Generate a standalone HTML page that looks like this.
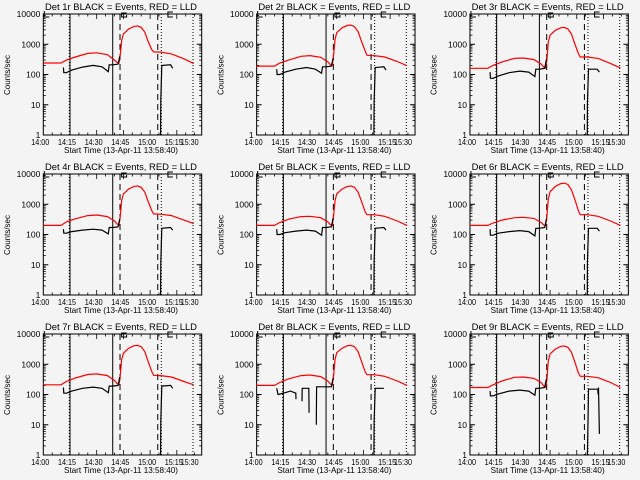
<!DOCTYPE html>
<html><head><meta charset="utf-8"><style>
html,body{margin:0;padding:0;background:#f4f4f4}
svg{display:block}
text{font-family:"Liberation Sans",sans-serif;fill:#000}
</style></head><body>
<svg id="chart" width="640" height="480" viewBox="0 0 640 480"></svg>
<script>
// ---- data ----
const panelNames = ["1r","2r","3r","4r","5r","6r","7r","8r","9r"];
const xTickLabels = ["14:00","14:15","14:30","14:45","15:00","15:15","15:30"];
const xTickMinutes = [0,15,30,45,60,75,90];
const yTickValues = [1,10,100,1000,10000];
const yTickLabels = ["1","10","100","1000","10000"];
const redTimes = [0,10,13,18,25,30,36,40,41.5,42.5,43.2,44,45,48,51,53,55,57,59,61,62,66,72,79,84.5];
const redValues = [
 [240,240,300,380,500,520,450,300,250,240,420,1300,2200,3200,3900,4000,3600,2500,1200,650,560,550,480,330,230],
 [190,190,240,300,400,420,370,260,210,200,400,1400,2400,3500,4200,4300,3800,2600,1200,600,430,420,380,270,195],
 [160,160,200,260,340,350,310,220,175,165,300,1200,2000,2900,3500,3600,3200,2200,1000,480,380,380,340,230,165],
 [200,200,260,330,420,440,390,280,220,210,380,1300,2200,3200,3900,4000,3600,2500,1200,600,480,470,420,300,230],
 [200,200,250,320,390,400,360,260,210,200,380,1300,2200,3200,3900,4000,3600,2500,1200,560,450,450,400,280,200],
 [200,200,240,300,360,370,340,250,205,200,400,1500,2600,3900,4800,5000,4500,3000,1400,600,450,450,400,280,200],
 [210,210,270,350,460,480,420,290,230,215,400,1400,2300,3400,4100,4200,3800,2600,1200,560,430,420,380,270,210],
 [200,200,250,330,420,440,390,280,220,210,380,1400,2400,3400,4100,4200,3800,2600,1200,560,450,450,400,280,200],
 [170,170,210,280,370,380,340,250,190,175,300,1300,2200,3200,3900,4000,3600,2500,1150,500,400,400,360,250,170]
];
const stdBlackTimes = [11.3,11.5,13,16,22,28,33,36.5,37,39,42,42.5,43,null,65.9,66,66.6,71.5,72.7];
const blackTimes = [
 stdBlackTimes, stdBlackTimes, stdBlackTimes, stdBlackTimes, stdBlackTimes, stdBlackTimes, stdBlackTimes,
 [11.3,12,12.2,16,19,22,22.1,null,25.5,25.6,29.3,29.5,null,33.5,33.7,39,42,42.5,43,null,65.9,66,66.6,71.5],
 [11.3,11.5,13,16,22,28,33,36.5,37,39,42,42.5,43,null,66,66.3,66.6,71.8,72,72.2,72.7]
];
const blackValues = [
 [170,115,115,140,175,200,180,125,210,210,220,300,400,null,1,14,200,210,160],
 [150,100,100,120,150,170,150,110,180,180,190,260,350,null,1,12,170,180,140],
 [120,75,75,90,115,130,120,85,150,150,160,230,320,null,1,11,150,150,120],
 [150,110,110,125,140,150,140,105,170,170,180,250,330,null,1,12,160,170,140],
 [150,100,100,115,130,140,130,95,170,170,180,260,350,null,1,12,160,170,140],
 [150,95,95,110,125,135,125,90,160,160,170,240,330,null,1,12,160,160,130],
 [170,110,110,130,160,175,160,115,190,190,200,280,380,null,1,13,190,200,160],
 [160,100,100,115,130,110,70,null,60,160,160,25,null,10,180,180,180,260,350,null,1,12,160,160],
 [130,90,90,105,130,140,130,95,160,160,170,250,330,null,1,12,150,150,100,170,5]
];
const solidMarkers = [15,39];
const dashedMarkers = [43.1,64.3];
const dottedMarkers = [14.6,66.3,84.1];

// ---- drawing ----
const svg = document.getElementById('chart');
const NS = 'http://www.w3.org/2000/svg';
function mk(tag, attrs, parent){const e=document.createElementNS(NS,tag);for(const k in attrs)e.setAttribute(k,attrs[k]);(parent||svg).appendChild(e);return e;}
const PW=640/3, PH=160, L=43.3, R=201.7, T=14, B=135, PXMIN=1.78, PXDEC=30.25;

for(let p=0;p<9;p++){
  const ox=(p%3)*PW, oy=Math.floor(p/3)*PH;
  const left=ox+L, right=ox+R, top=oy+T, bot=oy+B;
  const x=t=>left+t*PXMIN;
  const y=v=>bot-Math.log10(v)*PXDEC;
  const g=mk('g',{});
  
  

  const title=mk('text',{x:ox+121,y:oy+10,'font-size':'9.5','text-anchor':'middle',textLength:152,lengthAdjust:'spacingAndGlyphs'},g);
  title.textContent='Det '+panelNames[p]+' BLACK = Events, RED = LLD';
  
  

  const yl=mk('text',{x:0,y:0,'font-size':'8','text-anchor':'middle',transform:`translate(${ox+10},${oy+75}) rotate(-90)`},g);
  yl.textContent='Counts/sec';
  
  

  const xl=mk('text',{x:ox+121,y:oy+153,'font-size':'8.5','text-anchor':'middle',textLength:114,lengthAdjust:'spacingAndGlyphs'},g);
  xl.textContent='Start Time (13-Apr-11 13:58:40)';
  
  

  const fr=mk('rect',{x:left,y:top,width:R-L,height:B-T,fill:'none',stroke:'#000','stroke-width':1},g);
  
  

  yTickValues.forEach((v,i)=>{
    const yy=y(v);
    mk('line',{x1:left,x2:left+5,y1:yy,y2:yy,stroke:'#000'},g);
    mk('line',{x1:right,x2:right-5,y1:yy,y2:yy,stroke:'#000'},g);
    const tl=mk('text',{x:left-3,y:yy+3,'font-size':'8.5','text-anchor':'end'},g);
    tl.textContent=yTickLabels[i];
    
    
    if(i<yTickValues.length-1){
      for(let m=2;m<10;m++){const ym=y(v*m);
        mk('line',{x1:left,x2:left+2.5,y1:ym,y2:ym,stroke:'#000','stroke-width':0.8},g);
        mk('line',{x1:right,x2:right-2.5,y1:ym,y2:ym,stroke:'#000','stroke-width':0.8},g);}
    }
  });
  for(let m=5;m<89;m+=5){const xx=x(m);const major=m%15===0;
    mk('line',{x1:xx,x2:xx,y1:bot,y2:bot-(major?5:2.5),stroke:'#000','stroke-width':0.8},g);
    mk('line',{x1:xx,x2:xx,y1:top,y2:top+(major?5:2.5),stroke:'#000','stroke-width':0.8},g);}
  xTickMinutes.forEach((m,i)=>{
    let xx=x(m)-3; if(xx>right-10) xx=right-12;
    const tl=mk('text',{x:xx,y:bot+10,'font-size':'8','text-anchor':'middle',textLength:18,lengthAdjust:'spacingAndGlyphs'},g);
    tl.textContent=xTickLabels[i];
    
    
  });

  solidMarkers.forEach(m=>mk('line',{x1:x(m),x2:x(m),y1:top,y2:bot,stroke:'#000','stroke-width':1},g));
  dashedMarkers.forEach(m=>mk('line',{x1:x(m),x2:x(m),y1:top,y2:bot,stroke:'#000','stroke-width':1,'stroke-dasharray':'6,4'},g));
  dottedMarkers.forEach(m=>mk('line',{x1:x(m),x2:x(m),y1:top,y2:bot,stroke:'#000','stroke-width':1,'stroke-dasharray':'1,2'},g));
  mk('path',{d:`M${left+1} ${top-3} V${top+3} H${left+6}`,fill:'none',stroke:'#000'},g);
  mk('path',{d:`M${x(44)+5} ${top-1} H${x(44)} V${top+3} H${x(44)+5} V${top+1}`,fill:'none',stroke:'#000'},g);
  mk('path',{d:`M${x(70)+5} ${top-2} H${x(70)} V${top+3} H${x(70)+5}`,fill:'none',stroke:'#000'},g);

  const rv=redValues[p];
  let d='';
  redTimes.forEach((t,i)=>{d+=(i?'L':'M')+x(t).toFixed(1)+' '+y(rv[i]).toFixed(1);});
  const rp=mk('path',{d:d,fill:'none',stroke:'#ff0000','stroke-width':1.2},g);
  
  

  const bt=blackTimes[p], bv=blackValues[p];
  let d2='', pen=false;
  bt.forEach((t,i)=>{
    if(t===null||bv[i]===null){pen=false;return;}
    d2+=(pen?'L':'M')+x(t).toFixed(1)+' '+y(bv[i]).toFixed(1); pen=true;
  });
  const bp=mk('path',{d:d2,fill:'none',stroke:'#000','stroke-width':1.2},g);
  
  
}
</script>
</body></html>
